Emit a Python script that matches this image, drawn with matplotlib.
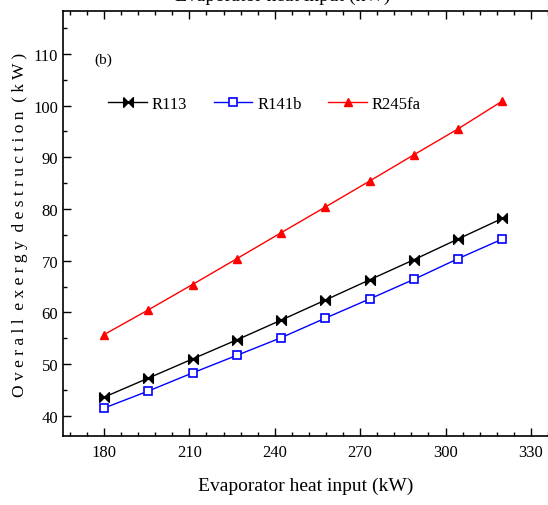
import matplotlib
matplotlib.use("Agg")
import matplotlib.pyplot as plt
from matplotlib.ticker import MultipleLocator

plt.rcParams.update({
    "font.family": "serif",
    "font.serif": ["Liberation Serif", "DejaVu Serif"],
    "font.size": 12,
})

heat_input = [180, 195.6, 211.1, 226.7, 242.2, 257.8, 273.3, 288.9, 304.4, 320]
r113 = [43.6, 47.3, 51.0, 54.7, 58.5, 62.4, 66.3, 70.2, 74.2, 78.2]
r141b = [41.5, 44.8, 48.3, 51.7, 55.1, 58.9, 62.6, 66.4, 70.4, 74.2]
r245fa = [55.7, 60.5, 65.4, 70.4, 75.4, 80.4, 85.4, 90.5, 95.5, 100.9]

# bowtie marker for R113
bowtie = [(-1, 1), (-1, -1), (1, 1), (1, -1), (-1, 1)]

fig = plt.figure(figsize=(5.48, 5.06), dpi=100)
ax = fig.add_axes([63 / 548, 69 / 506, 1 - 63 / 548, 425 / 506])

ax.plot(heat_input, r113, color="black", lw=1, marker=bowtie, ms=7,
        mfc="black", mec="black", label="R113")
ax.plot(heat_input, r141b, color="blue", lw=1, marker="s", ms=6,
        mfc="white", mec="blue", mew=1.2, label="R141b")
ax.plot(heat_input, r245fa, color="red", lw=1, marker="^", ms=6,
        mfc="red", mec="red", label="R245fa")

ax.set_xlim(165.6, 336)
ax.set_ylim(36.1, 118.3)
ax.xaxis.set_major_locator(MultipleLocator(30))
ax.xaxis.set_minor_locator(MultipleLocator(6))
ax.yaxis.set_major_locator(MultipleLocator(10))
ax.yaxis.set_minor_locator(MultipleLocator(5))
ax.tick_params(which="both", direction="in", top=True, right=False, labelsize=12)
ax.tick_params(which="major", length=6, width=1)
ax.tick_params(which="minor", length=3, width=1)
ax.tick_params(axis="x", pad=6)
ax.spines["right"].set_visible(False)
for s in ("left", "bottom", "top"):
    ax.spines[s].set_linewidth(1.2)

ax.set_xlabel("Evaporator heat input (kW)", fontsize=14, labelpad=12)
ax.set_ylabel("O v e r a l l  e x e r g y  d e s t r u c t i o n  ( k W )",
              fontsize=12.5, labelpad=4)

# top axis title, cut by the figure edge as in the source
fig.text(283 / 548, 1 - 1 / 506, "Evaporator heat input (kW)", fontsize=14,
         ha="center", va="baseline")

ax.text(0.065, 0.877, "(b)", transform=ax.transAxes, fontsize=11)

ax.legend(loc="upper left", bbox_to_anchor=(0.08, 0.815), ncol=3, frameon=False,
          handlelength=2.3, handletextpad=0.3, columnspacing=1.6, fontsize=12,
          borderaxespad=0)

fig.savefig("out.png", dpi=100)
